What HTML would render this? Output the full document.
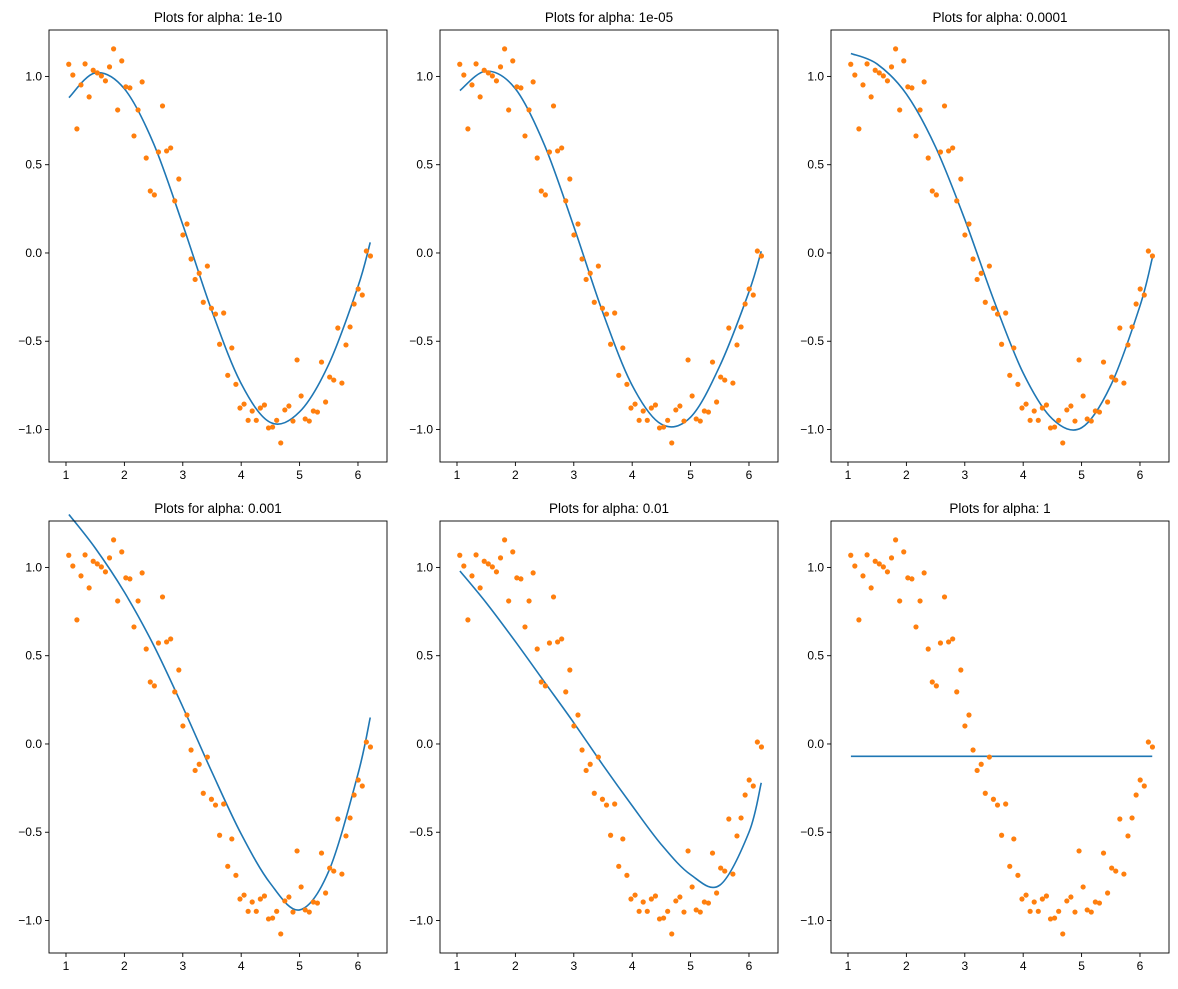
<!DOCTYPE html>
<html><head><meta charset="utf-8"><style>
body{margin:0;background:#fff;}
svg{display:block;font-family:"Liberation Sans","DejaVu Sans",sans-serif;}
</style></head><body>
<svg id="c" width="1178" height="989"></svg>
<script>
const alphas = ["1e-10","1e-05","0.0001","0.001","0.01","1"];
const pointYs = [1.069,1.008,0.703,0.952,1.071,0.884,1.035,1.020,1.003,0.975,1.054,1.156,0.810,1.088,0.941,0.935,0.663,0.810,0.969,0.538,0.351,0.329,0.572,0.833,0.578,0.595,0.295,0.419,0.102,0.164,-0.034,-0.150,-0.115,-0.279,-0.074,-0.313,-0.346,-0.517,-0.340,-0.693,-0.538,-0.744,-0.878,-0.856,-0.948,-0.895,-0.948,-0.878,-0.861,-0.991,-0.986,-0.948,-1.076,-0.889,-0.867,-0.952,-0.606,-0.810,-0.940,-0.952,-0.895,-0.901,-0.618,-0.844,-0.703,-0.720,-0.425,-0.737,-0.521,-0.419,-0.289,-0.204,-0.238,0.011,-0.017];
const startDeg = 60, stepDeg = 4;
const curveX = [1.05,1.5,2,2.5,3,3.5,4,4.5,5,5.5,6,6.21];
const fit0 = [0.88,1.02,0.93,0.62,0.16,-0.33,-0.74,-0.96,-0.90,-0.63,-0.19,0.06];
const fit1 = [0.92,1.03,0.93,0.61,0.15,-0.34,-0.75,-0.97,-0.93,-0.64,-0.22,0.01];
const fit2 = [1.13,1.07,0.90,0.60,0.19,-0.27,-0.68,-0.94,-0.99,-0.75,-0.30,-0.03];
const fit3 = [1.30,1.11,0.86,0.56,0.21,-0.16,-0.51,-0.79,-0.94,-0.72,-0.17,0.15];
const fit4 = [0.98,0.80,0.58,0.35,0.12,-0.12,-0.35,-0.57,-0.74,-0.80,-0.50,-0.22];
const fit5 = [-0.07,-0.07,-0.07,-0.07,-0.07,-0.07,-0.07,-0.07,-0.07,-0.07,-0.07,-0.07];
const fits = [fit0,fit1,fit2,fit3,fit4,fit5];
const xTicks = [1,2,3,4,5,6];
const yTicks = [-1.0,-0.5,0.0,0.5,1.0];
const yTickLabels = ["\u22121.0","\u22120.5","0.0","0.5","1.0"];

const NS="http://www.w3.org/2000/svg";
const svg=document.getElementById('c');
function mk(t,a,p){const e=document.createElementNS(NS,t);for(const k in a)e.setAttribute(k,a[k]);(p||svg).appendChild(e);return e;}
const lefts=[49,440,831], tops=[30,521], W=338, H=432;
const xmin=0.709,xmax=6.497,ymin=-1.184,ymax=1.263;
for(let p=0;p<6;p++){
  const L=lefts[p%3], T=tops[Math.floor(p/3)];
  const sx=v=>L+(v-xmin)/(xmax-xmin)*W;
  const sy=v=>T+(ymax-v)/(ymax-ymin)*H;
  const g=mk('g',{});
  
  
  const t=mk('text',{x:L+W/2,y:T-8,'text-anchor':'middle','font-size':'13.5',fill:'#000'},g);
  t.textContent='Plots for alpha: '+alphas[p];
  
  
  const pts=curveX.map((x,i)=>[sx(x),sy(fits[p][i])]);
  let d='M'+pts[0][0]+','+pts[0][1];
  for(let i=0;i<pts.length-1;i++){
    const p0=pts[Math.max(0,i-1)],p1=pts[i],p2=pts[i+1],p3=pts[Math.min(pts.length-1,i+2)];
    d+=' C'+(p1[0]+(p2[0]-p0[0])/6)+','+(p1[1]+(p2[1]-p0[1])/6)+' '+(p2[0]-(p3[0]-p1[0])/6)+','+(p2[1]-(p3[1]-p1[1])/6)+' '+p2[0]+','+p2[1];
  }
  const ln=mk('path',{d:d,fill:'none',stroke:'#1f77b4','stroke-width':'1.6'},g);
  
  
  pointYs.forEach((y,i)=>{
    const x=(startDeg+stepDeg*i)*Math.PI/180;
    const c=mk('circle',{cx:sx(x),cy:sy(y),r:2.6,fill:'#ff7f0e'},g);
    
    
  });
  const fr=mk('rect',{x:L,y:T,width:W,height:H,fill:'none',stroke:'#000','stroke-width':'0.9'},g);
  
  
  xTicks.forEach(v=>{
    const X=sx(v);
    mk('line',{x1:X,x2:X,y1:T+H,y2:T+H+4,stroke:'#000','stroke-width':'0.9'},g);
    const tx=mk('text',{x:X,y:T+H+17,'text-anchor':'middle','font-size':'12'},g);
    tx.textContent=v;
    
    
  });
  yTicks.forEach((v,i)=>{
    const Y=sy(v);
    mk('line',{x1:L-4,x2:L,y1:Y,y2:Y,stroke:'#000','stroke-width':'0.9'},g);
    const ty=mk('text',{x:L-7,y:Y+4,'text-anchor':'end','font-size':'12'},g);
    ty.textContent=yTickLabels[i];
    
    
  });
}
</script>
</body></html>
